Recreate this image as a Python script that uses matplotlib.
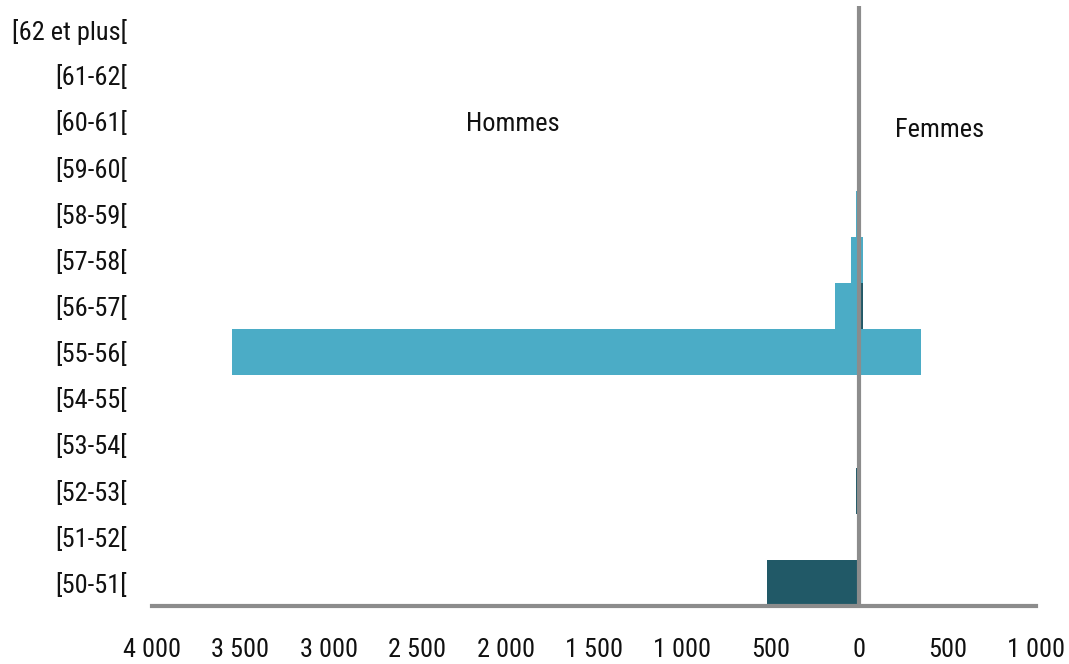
import matplotlib
matplotlib.use("Agg")
import matplotlib.pyplot as plt
from matplotlib import font_manager

categories = ['[50-51[', '[51-52[', '[52-53[', '[53-54[', '[54-55[', '[55-56[',
              '[56-57[', '[57-58[', '[58-59[', '[59-60[', '[60-61[', '[61-62[',
              '[62 et plus[']
hommes_clair = [0, 0, 0, 0, 0, 3550, 135, 45, 18, 0, 0, 0, 0]
hommes_fonce = [520, 0, 18, 0, 0, 0, 0, 0, 0, 0, 0, 0, 0]
femmes_clair = [12, 0, 0, 0, 12, 350, 0, 20, 0, 12, 12, 12, 0]
femmes_fonce = [0, 0, 0, 0, 0, 0, 22, 0, 0, 0, 0, 0, 0]
xticks = [-4000, -3500, -3000, -2500, -2000, -1500, -1000, -500, 0, 500, 1000]
xtick_labels = ['4 000', '3 500', '3 000', '2 500', '2 000', '1 500', '1 000', '500', '0', '500', '1 000']

installed = {f.name for f in font_manager.fontManager.ttflist}
main = next((f for f in ['Roboto Condensed', 'Archivo Narrow', 'PT Sans Narrow', 'Liberation Sans']
             if f in installed), 'DejaVu Sans')
plt.rcParams['font.family'] = [main, 'DejaVu Sans']
FS = 19

light = '#4BACC6'
dark = '#215967'
gray = '#8C8C8C'

fig = plt.figure(figsize=(10.69, 6.64), dpi=100)
ax = fig.add_axes([152/1069, 58/664, (1036-152)/1069, 600/664])

y = list(range(len(categories)))
ax.barh(y, [-v for v in hommes_clair], height=1.0, color=light, edgecolor='none')
ax.barh(y, [-v for v in hommes_fonce], height=1.0, color=dark, edgecolor='none')
ax.barh(y, femmes_clair, height=1.0, color=light, edgecolor='none')
ax.barh(y, femmes_fonce, height=1.0, color=dark, edgecolor='none')

ax.set_xlim(-4000, 1000)
ax.set_ylim(-0.5, 12.5)
ax.axvline(0, color=gray, lw=3, zorder=5)

for s in ['top', 'right', 'left']:
    ax.spines[s].set_visible(False)
ax.spines['bottom'].set_color(gray)
ax.spines['bottom'].set_linewidth(3)
ax.spines['bottom'].set_zorder(6)

ax.set_xticks(xticks)
ax.set_xticklabels(xtick_labels, fontsize=FS, color='#111111')
ax.set_yticks(y)
ax.set_yticklabels(categories, fontsize=FS, color='#111111')
ax.tick_params(axis='x', length=0, pad=23)
ax.tick_params(axis='y', length=0, pad=18)

ax.text(-1960, 9.94, 'Hommes', fontsize=FS, ha='center', va='center', color='#111111')
ax.text(455, 9.81, 'Femmes', fontsize=FS, ha='center', va='center', color='#111111')

fig.savefig('out.png', dpi=100)
